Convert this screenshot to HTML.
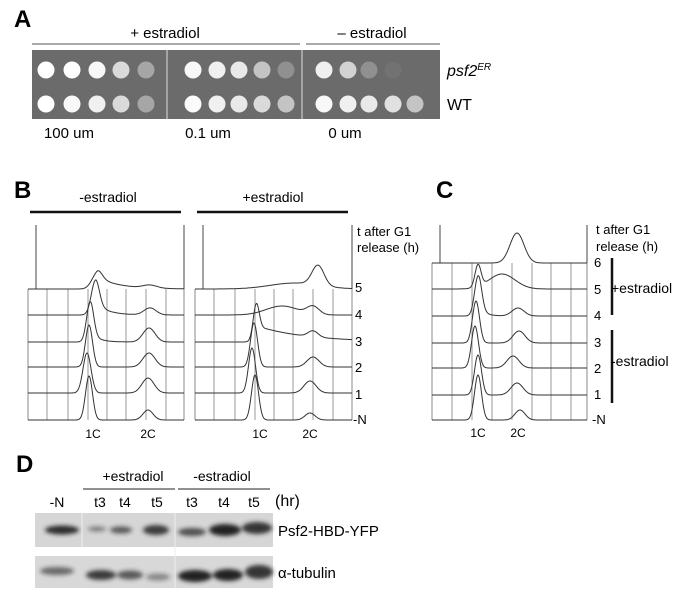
<!DOCTYPE html>
<html><head><meta charset="utf-8"><style>
html,body{margin:0;padding:0;background:#fff;}
svg{display:block;font-family:"Liberation Sans",Arial,sans-serif;}
</style></head><body>
<svg id="s" width="685" height="595" viewBox="0 0 685 595" xmlns="http://www.w3.org/2000/svg">
<!-- Panel A -->
<text x="14" y="27" font-size="24" font-weight="bold">A</text>
<text x="165" y="38" font-size="15" text-anchor="middle">+  estradiol</text>
<text x="372" y="38" font-size="15" text-anchor="middle">–  estradiol</text>
<line x1="32" y1="44" x2="300" y2="44" stroke="#555" stroke-width="1"/>
<line x1="306" y1="44" x2="440" y2="44" stroke="#555" stroke-width="1"/>
<rect x="32" y="50" width="408" height="69" fill="#6b6b6b"/>
<line x1="167" y1="50" x2="167" y2="119" stroke="#ddd" stroke-width="1"/>
<line x1="302" y1="50" x2="302" y2="119" stroke="#ddd" stroke-width="1"/>
<g id="spots"></g>
<text x="447" y="76" font-size="16" font-style="italic">psf2<tspan font-size="10" dy="-6">ER</tspan></text>
<text x="447" y="110" font-size="16">WT</text>
<text x="69" y="138" font-size="15" text-anchor="middle">100 um</text>
<text x="208" y="138" font-size="15" text-anchor="middle">0.1 um</text>
<text x="345" y="138" font-size="15" text-anchor="middle">0 um</text>
<!-- Panel B -->
<text x="14" y="198" font-size="24" font-weight="bold">B</text>
<text x="108" y="202" font-size="14" text-anchor="middle">-estradiol</text>
<text x="273" y="202" font-size="14" text-anchor="middle">+estradiol</text>
<line x1="30" y1="212" x2="181" y2="212" stroke="#111" stroke-width="2.5"/>
<line x1="197" y1="212" x2="348" y2="212" stroke="#111" stroke-width="2.5"/>
<text x="357" y="236" font-size="13">t after G1</text>
<text x="357" y="252" font-size="13">release (h)</text>
<g font-size="13"><text x="355" y="292">5</text><text x="355" y="319">4</text><text x="355" y="346">3</text><text x="355" y="372">2</text><text x="355" y="399">1</text><text x="353" y="424">-N</text></g>
<text x="93" y="438" font-size="12" text-anchor="middle">1C</text>
<text x="148" y="438" font-size="12" text-anchor="middle">2C</text>
<text x="260" y="438" font-size="12" text-anchor="middle">1C</text>
<text x="310" y="438" font-size="12" text-anchor="middle">2C</text>
<!-- Panel C -->
<text x="436" y="198" font-size="24" font-weight="bold">C</text>
<text x="596" y="234" font-size="13">t after G1</text>
<text x="596" y="251" font-size="13">release (h)</text>
<g font-size="13"><text x="594" y="267">6</text><text x="594" y="294">5</text><text x="594" y="320">4</text><text x="594" y="347">3</text><text x="594" y="373">2</text><text x="594" y="399">1</text><text x="592" y="424">-N</text></g>
<line x1="612" y1="258" x2="612" y2="315" stroke="#111" stroke-width="2.5"/>
<line x1="612" y1="330" x2="612" y2="403" stroke="#111" stroke-width="2.5"/>
<text x="611" y="293" font-size="14">+estradiol</text>
<text x="611" y="366" font-size="14">-estradiol</text>
<text x="478" y="437" font-size="12" text-anchor="middle">1C</text>
<text x="518" y="437" font-size="12" text-anchor="middle">2C</text>
<g id="plots"></g>
<!-- Panel D -->
<text x="16" y="472" font-size="24" font-weight="bold">D</text>
<text x="133" y="481" font-size="14" text-anchor="middle">+estradiol</text>
<text x="222" y="481" font-size="14" text-anchor="middle">-estradiol</text>
<line x1="83" y1="489" x2="175" y2="489" stroke="#222" stroke-width="1"/>
<line x1="178" y1="489" x2="270" y2="489" stroke="#222" stroke-width="1"/>
<text x="275" y="506" font-size="16">(hr)</text>
<g font-size="14" text-anchor="middle"><text x="57" y="507">-N</text><text x="100" y="507">t3</text><text x="125" y="507">t4</text><text x="157" y="507">t5</text><text x="192" y="507">t3</text><text x="224" y="507">t4</text><text x="254" y="507">t5</text></g>
<defs><filter id="bl"><feGaussianBlur stdDeviation="2.2"/></filter></defs>
<rect x="35" y="513" width="238" height="34" fill="#d6d6d6"/>
<rect x="35" y="556" width="238" height="32" fill="#d8d8d8"/>
<g filter="url(#bl)" fill="#222">
<ellipse cx="62" cy="530" rx="17" ry="4.5" opacity="0.95"/>
<ellipse cx="97" cy="529" rx="9" ry="2.5" opacity="0.5"/>
<ellipse cx="121" cy="530" rx="11" ry="3.5" opacity="0.7"/>
<ellipse cx="156" cy="530" rx="13" ry="5" opacity="0.85"/>
<ellipse cx="192" cy="532" rx="14" ry="4" opacity="0.75"/>
<ellipse cx="225" cy="530" rx="16" ry="6" opacity="1"/>
<ellipse cx="257" cy="528" rx="15" ry="6" opacity="0.9"/>
<ellipse cx="57" cy="571" rx="17" ry="4" opacity="0.6"/>
<ellipse cx="101" cy="575" rx="15" ry="5" opacity="0.85"/>
<ellipse cx="130" cy="575" rx="13" ry="4.5" opacity="0.7"/>
<ellipse cx="158" cy="577" rx="12" ry="3.5" opacity="0.45"/>
<ellipse cx="195" cy="576" rx="17" ry="6" opacity="1"/>
<ellipse cx="228" cy="575" rx="15" ry="6" opacity="1"/>
<ellipse cx="259" cy="572" rx="14" ry="7" opacity="0.9"/>
</g>
<line x1="82" y1="513" x2="82" y2="547" stroke="#eee"/>
<line x1="175" y1="513" x2="175" y2="588" stroke="#eee"/>
<text x="278" y="536" font-size="15">Psf2-HBD-YFP</text>
<text x="278" y="578" font-size="15">α-tubulin</text>
</svg>
<script>
var NS="http://www.w3.org/2000/svg";
function el(p,t,a){var e=document.createElementNS(NS,t);for(var k in a)e.setAttribute(k,a[k]);p.appendChild(e);return e;}
var sp=document.getElementById("spots");
var xs=[[46,72,97,121,146],[193,217,239,262,286],[324,348,369,393,415]];
var rows=[[ [1,1,.95,.75,.4],[.95,.9,.85,.6,.25],[.9,.7,.25,.05,0] ],[ [1,.95,.9,.75,.4],[.97,.9,.85,.75,.6],[.95,.9,.85,.8,.6] ]];
for(var r=0;r<2;r++)for(var p=0;p<3;p++)for(var i=0;i<5;i++){var v=rows[r][p][i];if(v<=0)continue;
var g=Math.round(107+(255-107)*v);el(sp,"circle",{cx:xs[p][i],cy:r?104:70,r:8.5,fill:"rgb("+g+","+g+","+g+")"});}
var pl=document.getElementById("plots");
function plot(x0,x1,top,bases,grid,curves){
 var topB=bases[0];
 el(pl,"line",{x1:x0+8,y1:top,x2:x0+8,y2:topB,stroke:"#444","stroke-width":1});
 el(pl,"line",{x1:x1,y1:top,x2:x1,y2:topB,stroke:"#444","stroke-width":1});
 var bot=bases[bases.length-1];
 grid.forEach(function(g){el(pl,"line",{x1:g,y1:topB,x2:g,y2:bot,stroke:"#999","stroke-width":1});});
 el(pl,"line",{x1:x0,y1:topB,x2:x0,y2:bot,stroke:"#888"});el(pl,"line",{x1:x1,y1:topB,x2:x1,y2:bot,stroke:"#888"});
 bases.forEach(function(b,k){
  var c=curves[k],d="";
  for(var x=x0;x<=x1;x+=0.5){var y=0;c.forEach(function(q){
    if(q[3]=="t"){ y+=q[1]*Math.exp(-Math.max(0,x-q[0])/q[2])/(1+Math.exp(-(x-q[0])/2)); }
    else y+=q[1]*Math.exp(-Math.pow(x-q[0],2)/(2*q[2]*q[2]));});
   d+=(x==x0?"M":"L")+x.toFixed(1)+","+(b-y).toFixed(1);}
  el(pl,"path",{d:d,fill:"none",stroke:"#333","stroke-width":1});
 });
}
plot(28,184,225,[289,315,342,367,393,420],[47,68,88,107,126,146,166],
[[[96,12,5],[97,12,22,"t"],[150,3,7]],
 [[95,30,4],[96,12,12,"t"],[150,7,6]],
 [[90,38,3.5],[92,8,8,"t"],[149,14,6]],
 [[89,42,3.5],[149,14,6]],
 [[87,40,4],[148,15,6]],
 [[89,44,3.5],[148,10,5]]]);
plot(195,352,225,[289,315,342,367,393,420],[214,235,255,274,293,313,333],
[[[318,20,6],[295,6,25]],
 [[282,9,16],[313,8,6]],
 [[256,32,3],[257,16,50,"t"],[313,6,5]],
 [[254,44,3.5],[313,10,6]],
 [[252,45,3.5],[310,12,6]],
 [[255,45,3.5],[310,7,5]]]);
plot(432,587,225,[263,289,316,343,368,395,420],[452,472,492,512,532,551,571],
[[[517,30,7]],
 [[478,22,3],[502,15,13]],
 [[478,38,3.5],[480,8,6,"t"],[518,8,6]],
 [[476,42,3.5],[519,12,6]],
 [[475,42,3.5],[513,12,6]],
 [[478,40,3.5],[517,12,6]],
 [[478,45,3.5],[520,10,5]]]);
</script>
</body></html>
